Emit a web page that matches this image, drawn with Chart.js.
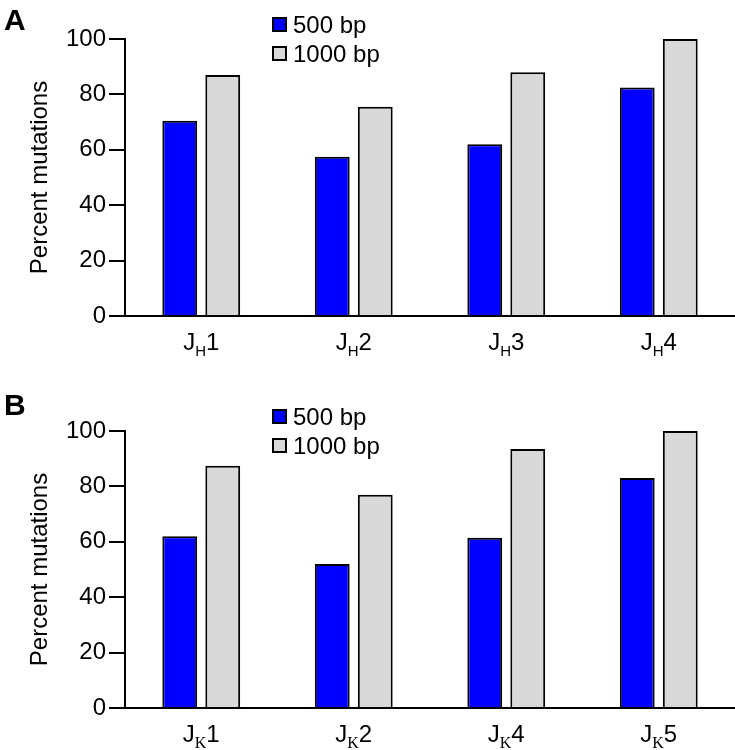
<!DOCTYPE html>
<html>
<head>
<meta charset="utf-8">
<script src="https://cdn.jsdelivr.net/npm/chart.js@4.4.1/dist/chart.umd.min.js"></script>
<style>
  html, body { margin: 0; padding: 0; background: #fff; }
  #wrap { position: relative; width: 735px; height: 750px; }
  .panel { position: absolute; left: 0; }
</style>
</head>
<body>
<div id="wrap">
  <div class="panel" style="top:0"><canvas id="chartA" width="735" height="392"></canvas></div>
  <div class="panel" style="top:392px"><canvas id="chartB" width="735" height="358"></canvas></div>
</div>
<script>
/* ---- data ---- */
const seriesNames = ["500 bp", "1000 bp"];
const categoriesA = ["JH1", "JH2", "JH3", "JH4"];
const bp500A = [70.5, 57.5, 62, 82.5];
const bp1000A = [87, 75.5, 88, 100];
const categoriesB = ["JK1", "JK2", "JK4", "JK5"];
const bp500B = [62, 52, 61.5, 83];
const bp1000B = [87.5, 77, 93.5, 100];
const yTicks = [0, 20, 40, 60, 80, 100];

const FONT = "'Liberation Sans', Arial, Helvetica, sans-serif";
const PLOT_TOP = 39, PLOT_BOTTOM = 316, AXIS_LEFT = 125;

Chart.defaults.font.family = FONT;
Chart.defaults.color = "#000";

// category labels like J<sub>H</sub>1, drawn under each tick
const subLabels = {
  id: "subLabels",
  afterDraw(chart, args, opts) {
    const ctx = chart.ctx;
    const xs = chart.scales.x;
    const base = chart.chartArea.bottom + 34;
    ctx.save();
    ctx.fillStyle = "#000";
    ctx.textBaseline = "alphabetic";
    ctx.textAlign = "left";
    chart.data.labels.forEach((lab, i) => {
      const a = lab[0], s = lab[1], n = lab.slice(2);
      ctx.font = "24px " + FONT;
      const wa = ctx.measureText(a).width, wn = ctx.measureText(n).width;
      ctx.font = opts.subFont;
      const ws = ctx.measureText(s).width;
      let x = xs.getPixelForValue(i) - (wa + ws + wn) / 2;
      ctx.font = "24px " + FONT;
      ctx.fillText(a, x, base);
      x += wa;
      ctx.font = opts.subFont;
      ctx.fillText(s, x, base + 6);
      x += ws;
      ctx.font = "24px " + FONT;
      ctx.fillText(n, x, base);
    });
    ctx.restore();
  }
};

// small stacked legend plus panel letter
const panelDeco = {
  id: "panelDeco",
  afterDraw(chart, args, opts) {
    const ctx = chart.ctx;
    const top = chart.chartArea.top;
    const bx = chart.chartArea.left + 148;
    ctx.save();
    ctx.font = "bold 30px " + FONT;
    ctx.fillStyle = "#000";
    ctx.textBaseline = "top";
    ctx.fillText(opts.letter, 4, opts.letterTop);

    ctx.font = "24px " + FONT;
    ctx.textBaseline = "middle";
    chart.data.datasets.forEach((ds, i) => {
      const cy = top - 14 + i * 29;
      ctx.fillStyle = ds.backgroundColor;
      ctx.fillRect(bx, cy - 7, 13, 13);
      ctx.strokeStyle = "#000";
      ctx.lineWidth = 2;
      ctx.strokeRect(bx, cy - 7, 13, 13);
      ctx.fillStyle = "#000";
      ctx.fillText(ds.label, bx + 20, cy + 1);
    });
    ctx.restore();
  }
};

function makeChart(id, labels, v500, v1000, letter, letterTop, subFont) {
  const canvas = document.getElementById(id);
  const xHeight = canvas.height - PLOT_BOTTOM;
  return new Chart(canvas, {
    type: "bar",
    data: {
      labels,
      datasets: [
        { label: seriesNames[0], data: v500, backgroundColor: "#0000ff", borderColor: "#000", borderWidth: 2 },
        { label: seriesNames[1], data: v1000, backgroundColor: "#d9d9d9", borderColor: "#000", borderWidth: 2 }
      ]
    },
    options: {
      responsive: false,
      animation: false,
      devicePixelRatio: 1,
      categoryPercentage: 0.564,
      barPercentage: 0.81,
      layout: { padding: { top: PLOT_TOP, left: 0, right: 0, bottom: 0 } },
      plugins: {
        legend: { display: false },
        tooltip: { enabled: false },
        subLabels: { subFont },
        panelDeco: { letter, letterTop }
      },
      scales: {
        x: {
          grid: { display: false },
          border: { display: true, color: "#000", width: 2 },
          ticks: { display: false },
          afterFit: s => { s.height = xHeight; }
        },
        y: {
          min: yTicks[0],
          max: yTicks[yTicks.length - 1],
          ticks: { stepSize: yTicks[1] - yTicks[0], padding: 3, font: { size: 24 } },
          grid: { drawOnChartArea: false, color: "#000", lineWidth: 2, tickLength: 16 },
          border: { display: true, color: "#000", width: 2 },
          title: { display: true, text: "Percent mutations", font: { size: 24 }, padding: { top: 26, bottom: 0 } },
          afterFit: s => { s.width = AXIS_LEFT; }
        }
      }
    },
    plugins: [subLabels, panelDeco]
  });
}

makeChart("chartA", categoriesA, bp500A, bp1000A, "A", 7, "15px " + FONT);
makeChart("chartB", categoriesB, bp500B, bp1000B, "B", 0, "16px 'Liberation Serif', 'Times New Roman', serif");
</script>
</body>
</html>
